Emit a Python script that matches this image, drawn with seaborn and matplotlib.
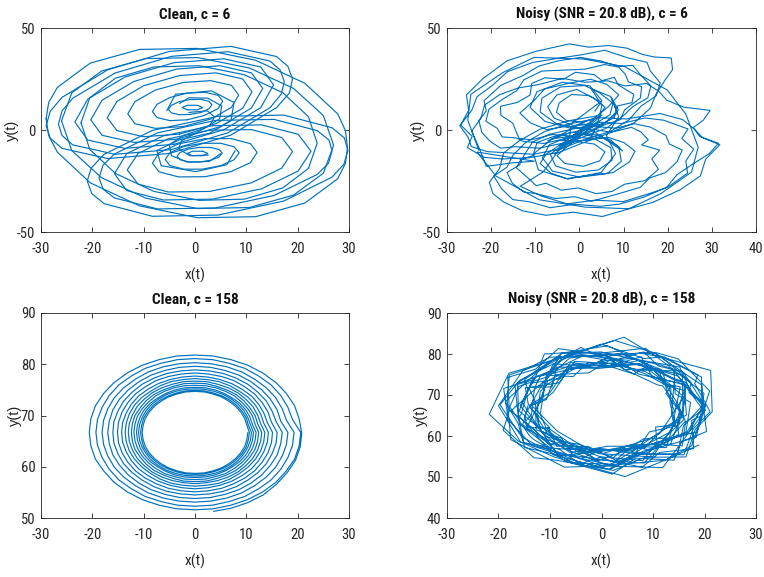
import os
import matplotlib
matplotlib.use("Agg")
import matplotlib.pyplot as plt
from matplotlib import font_manager as fm
from matplotlib.font_manager import FontProperties
import pandas as pd
import seaborn as sns

# ---------------- data ----------------
# Panel 1: clean trajectory, c = 6 (drawn loop by loop; sizes give points per loop)
clean6_sizes = [7, 13, 7, 13, 13, 13, 13, 13, 13, 17, 13, 13, 17, 13, 13, 21, 17, 17, 17, 17, 12, 12, 9]
clean6_x = [
    -1.5, 0.5, 1.5, 0.5, -1.5, -2.5, -1.5,
    -1.0, 1.2, 2.7, 3.3, 2.7, 1.2, -1.0, -3.1, -4.6, -5.2, -4.6, -3.1, -1.0,
    1.5, -0.5, -1.5, -0.5, 1.5, 2.5, 1.5,
    0.9, -1.3, -2.9, -3.5, -2.9, -1.3, 0.9, 3.1, 4.7, 5.3, 4.7, 3.1, 0.9,
    -1.5, 1.9, 4.5, 5.4, 4.5, 1.9, -1.5, -4.9, -7.4, -8.3, -7.4, -4.9, -1.5,
    1.4, -2.2, -4.9, -5.8, -4.9, -2.2, 1.4, 5.0, 7.6, 8.6, 7.6, 5.0, 1.4,
    -2.3, 3.1, 7.1, 8.5, 7.1, 3.1, -2.3, -7.7, -11.7, -13.1, -11.7, -7.7, -2.3,
    1.9, -3.2, -7.0, -8.3, -7.0, -3.2, 1.9, 7.0, 10.8, 12.1, 10.8, 7.0, 1.9,
    -3.0, 4.1, 9.3, 11.1, 9.3, 4.1, -3.0, -10.0, -15.2, -17.1, -15.2, -10.0, -3.0,
    -22.2, -20.5, -15.5, -8.0, 0.8, 9.6, 17.1, 22.1, 23.8, 22.1, 17.1, 9.6, 0.8, -8.0, -15.5, -20.5, -22.2,
    2.9, -5.2, -11.1, -13.2, -11.1, -5.2, 2.9, 11.0, 16.9, 19.0, 16.9, 11.0, 2.9,
    -3.5, 4.9, 11.0, 13.2, 11.0, 4.9, -3.5, -11.9, -18.1, -20.3, -18.1, -11.9, -3.5,
    -26.0, -24.0, -18.2, -9.6, 0.5, 10.6, 19.2, 25.0, 27.0, 25.0, 19.2, 10.6, 0.5, -9.6, -18.2, -24.0, -26.0,
    3.4, -6.2, -13.3, -15.7, -13.3, -6.2, 3.4, 13.0, 20.1, 22.6, 20.1, 13.0, 3.4,
    -4.1, 5.6, 12.8, 15.3, 12.8, 5.6, -4.1, -13.7, -20.9, -23.4, -20.9, -13.7, -4.1,
    -29.0, -28.5, -26.8, -20.4, -10.8, 0.5, 11.8, 21.4, 27.8, 29.3, 29.7, 29.3, 27.8, 21.4, 11.8, 0.5, -10.8, -20.4, -26.8, -28.5, -29.0,
    4.0, -7.3, -15.7, -17.9, -18.7, -17.9, -15.7, -7.3, 4.0, 15.4, 23.8, 26.0, 26.7, 26.1, 23.8, 15.4, 4.0,
    -4.6, 6.4, 14.6, 16.8, 17.4, 16.6, 14.6, 6.4, -4.6, -15.6, -23.8, -25.9, -26.6, -25.9, -23.8, -15.6, -4.6,
    4.5, -8.3, -17.7, -20.2, -21.0, -20.1, -17.7, -8.3, 4.5, 17.3, 26.7, 29.0, 29.8, 29.1, 26.7, 17.3, 4.5,
    -5.0, 7.0, 15.9, 18.4, 19.0, 18.1, 15.9, 7.0, -5.0, -17.0, -25.9, -28.2, -29.0, -28.2, -25.9, -17.0, -5.0,
    -3.0, -1.2, 2.5, 5.2, 4.8, 1.8, -2.2, -5.0, -4.6, -1.4, 2.8, 5.0,
    -5.5, -3.8, 3.2, 7.6, 7.0, 2.8, -3.0, -7.4, -6.6, 0.2, 6.2, 7.8,
    -1.2, 2.4, 3.8, 2.9, 0.2, -2.6, -3.2, -1.0, 2.6,
]
clean6_y = [
    9.9, 9.9, 11.0, 12.1, 12.1, 11.0, 9.9,
    7.6, 8.6, 10.4, 12.4, 14.1, 15.0, 14.9, 13.9, 12.1, 10.1, 8.4, 7.5, 7.6,
    -10.4, -10.4, -11.5, -12.6, -12.6, -11.5, -10.4,
    -8.5, -9.4, -11.0, -12.9, -14.6, -15.6, -15.7, -14.8, -13.2, -11.3, -9.6, -8.6, -8.5,
    5.0, 7.2, 10.5, 14.1, 17.0, 18.5, 18.1, 15.9, 12.6, 9.0, 6.1, 4.6, 5.0,
    -6.5, -8.1, -11.1, -14.5, -17.4, -19.2, -19.2, -17.5, -14.6, -11.2, -8.2, -6.5, -6.5,
    1.7, 5.4, 11.1, 17.1, 21.9, 24.2, 23.3, 19.6, 13.9, 7.9, 3.1, 0.8, 1.7,
    -4.3, -6.8, -11.2, -16.2, -20.5, -23.0, -22.9, -20.4, -16.0, -11.0, -6.7, -4.2, -4.3,
    -2.0, 3.1, 10.7, 18.7, 25.0, 28.0, 26.7, 21.7, 14.0, 6.0, -0.3, -3.3, -2.0,
    3.5, -9.5, -21.3, -30.1, -34.5, -33.9, -28.4, -18.8, -6.5, 6.5, 18.3, 27.1, 31.5, 30.9, 25.4, 15.8, 3.5,
    -0.1, -4.3, -11.5, -19.6, -26.5, -30.4, -30.1, -25.9, -18.7, -10.6, -3.7, 0.2, -0.1,
    -4.5, 1.6, 10.8, 20.4, 28.0, 31.5, 29.9, 23.8, 14.6, 5.0, -2.6, -6.1, -4.5,
    4.5, -10.1, -23.4, -33.4, -38.5, -38.0, -31.9, -21.2, -7.5, 7.1, 20.4, 30.4, 35.5, 35.0, 28.9, 18.2, 4.5,
    2.1, -2.9, -11.6, -21.4, -29.7, -34.3, -33.9, -28.8, -20.1, -10.4, -2.1, 2.5, 2.1,
    -7.0, 0.1, 10.9, 22.1, 30.9, 34.9, 33.0, 25.9, 15.1, 3.9, -4.9, -9.0, -7.0,
    5.5, -2.8, -10.9, -25.9, -37.2, -43.0, -42.5, -35.8, -23.9, -16.4, -8.5, -0.2, 7.9, 22.9, 34.2, 40.0, 39.5, 32.8, 20.9, 13.5, 5.5,
    4.7, -1.4, -11.8, -17.2, -23.4, -29.0, -33.3, -38.7, -38.2, -32.1, -21.8, -16.3, -10.2, -4.9, -0.3, 5.2, 4.7,
    -9.6, -1.4, 10.9, 17.6, 23.7, 29.4, 33.8, 38.4, 36.1, 27.9, 15.6, 9.4, 2.8, -2.7, -7.3, -11.9, -9.6,
    6.7, -0.2, -11.9, -18.6, -25.0, -31.2, -36.1, -42.3, -41.7, -34.8, -23.1, -16.8, -10.0, -3.9, 1.1, 7.3, 6.7,
    -11.5, -2.5, 11.0, 18.2, 25.0, 31.2, 36.0, 41.0, 38.5, 29.5, 16.0, 9.2, 2.0, -4.0, -9.0, -14.0, -11.5,
    13.0, 15.8, 15.6, 11.8, 5.5, 0.8, -2.6, -7.2, -12.6, -15.8, -15.4, -11.6,
    9.5, 17.5, 19.2, 13.5, 4.5, -1.6, -4.8, -10.0, -17.5, -20.4, -17.0, -10.2,
    8.6, 9.4, 6.4, 2.4, -1.5, -5.2, -9.2, -12.6, -12.3,
]

# Panel 2: noisy trajectory, c = 6
noisy6_x = [
    3.5, 4.9, 2.1, -1.8, -4.6, -5.2, -2.9, 0.8, 4.2, 5.8,
    3.1, -0.6, -5.1, -7.2, -5.8, -1.4, 3.3, 6.9, 7.6, 4.4,
    1.2, -4.3, -8.5, -8.9, -5.2, 0.6, 5.9, 8.8, 7.1, 2.6,
    5.1, 4.3, 0.9,
    -3.2, -5.1, -3.3, 0.9, 4.6, 5.8, 3.4, -0.7, -4.1,
    -6.6, -5.4, -0.8, 4.3, 7.4, 7.1, 3.2, -2.5, -6.8,
    -8.4, -6.1, 0.2, 6.3, 9.5, 8.9, 4.6, -1.9, -7.2,
    -3.5, 0.2, 4.8, 7.9, 8.6, 11.9, 12.3, 8.8, 7.9, 5.1, 3.4, -0.9, -3.6, -7.8, -10.8, -11.2, -14.1, -17.9, -17.8, -15.1, -14.2, -13.6, -10.9, -6.1, -2.2,
    -2.0, 3.4, 6.6, 8.9, 6.2, 2.5, -2.6, -7.9, -10.2, -13.5, -11.2, -7.4, -2.6,
    5.1, 2.4, -3.9, -9.6, -11.2, -7.8, -1.9, 4.9, 8.6, 7.2, 8.9, 6.1,
    8.2, 4.9, -2.6, -9.3, -10.4, -6.2, 0.8, 7.1, 9.8,
    2.1, -2.4, -5.9, -9.6, -10.5, -13.2, -14.3, -11.5, -9.8, -7.6, -4.1, -0.3, 3.8, 7.4, 10.2, 14.9, 17.9, 16.4, 18.2, 14.1, 15.6, 13.9, 11.8, 7.2, 3.5,
    2.3, -3.6, -7.5, -8.9, -6.4, -2.9, 2.4, 7.6, 11.3, 12.6, 10.1, 6.5, 1.5,
    -4.3, 1.6, 5.5, 9.3, 10.2, 13.8, 14.1, 11.1, 10.4, 8.9, 5.7, 1.2, -2.9, -8.5, -12.6, -14.2, -17.4, -20.5, -21.2, -18.6, -17.5, -14.3, -12.8, -8.1, -3.1,
    4.1, -1.3, -6.8, -10.6, -12.5, -13.6, -16.4, -15.2, -12.6, -9.8, -5.4, -1.1, 2.8, 8.6, 13.8, 15.9, 19.5, 22.1, 23.3, 20.4, 19.6, 16.1, 12.4, 8.3, 4.2,
    -4.6, 1.4, 6.1, 9.8, 12.1, 15.5, 16.2, 13.7, 12.1, 8.8, 4.9, 0.2, -4.8, -9.1, -12.9, -17.8, -21.6, -21.1, -22.8, -22.1, -20.2, -17.9, -14.5, -9.2, -3.6,
    3.3, -2.6, -7.9, -12.2, -15.1, -16.4, -19.4, -17.6, -15.1, -11.3, -6.6, -1.2, 4.8, 9.1, 14.6, 20.3, 24.5, 24.1, 25.9, 23.2, 24.6, 19.1, 14.8, 9.6, 4.6,
    -5.2, 1.3, 7.1, 11.2, 13.9, 17.4, 18.3, 16.1, 15.3, 10.9, 5.7, 0.6, -4.1, -10.6, -16.3, -19.7, -23.2, -24.4, -27.1, -25.2, -24.5, -20.9, -16.2, -10.4, -3.9,
    5.1, -2.3, -8.9, -13.6, -17.2, -18.1, -20.4, -19.6, -17.1, -12.9, -7.6, -1.4, 5.2, 11.3, 16.6, 22.9, 27.4, 28.6, 31.8, 27.9, 26.1, 23.4, 18.2, 10.6, 3.9,
    -5.6, 0.9, 6.3, 12.4, 16.1, 17.3, 19.4, 21.1, 20.8, 16.9, 14.2, 10.8, 6.6, 2.1, -2.3, -9.8, -16.4, -21.8, -25.6, -25.1, -26.9, -24.3, -25.4, -21.6, -17.5, -11.3, -5.1,
    -8.2, -13.4, -8.6, -2.8, 3.6, 9.9, 15.8, 19.7, 22.1, 25.6, 29.4, 31.5, 27.2, 25.8, 28.1, 29.6, 23.6, 19.8, 17.9, 15.2, 10.3, 6.5, 1.2, -3.8, -9.4, -13.9, -18.1, -21.5, -22.3, -24.4, -22.6, -21.1, -15.2, -10.2,
    -23.2, -18.9, -9.1, 1.3, 11.2, 18.5, 25.4, 26.9, 24.1, 19.9, 10.2, 0.9, -10.3, -17.4, -24.6, -25.3, -22.8,
]
noisy6_y = [
    9.2, 13.6, 16.9, 17.4, 13.2, 8.7, 4.6, 3.9, 6.1, 11.2,
    15.8, 19.9, 17.2, 11.4, 5.9, 2.2, 2.8, 7.4, 13.1, 18.5,
    21.8, 21.1, 15.6, 8.8, 3.1, 0.4, 3.5, 9.9, 16.4, 20.3,
    12.2, 4.6, -1.8,
    -8.9, -12.6, -16.4, -17.8, -15.1, -10.7, -6.9, -5.6, -7.8,
    -11.9, -17.6, -20.7, -19.6, -14.8, -8.6, -4.1, -3.4, -7.2,
    -13.6, -20.2, -23.1, -21.4, -15.3, -8.1, -2.6, -1.1, -5.3,
    -1.5, 2.9, 2.6, 6.1, 11.8, 13.4, 17.5, 22.1, 25.8, 24.2, 27.1, 28.3, 24.9, 25.6, 22.8, 17.1, 13.5, 11.6, 7.2, 3.4, -1.6, -4.2, -4.8, -2.2, -2.9,
    1.2, 5.9, 11.5, 17.2, 22.4, 24.9, 22.8, 20.1, 14.6, 8.3, 3.6, 0.2, 1.9,
    14.3, 21.6, 23.4, 18.8, 11.1, 4.2, 0.8, 2.1, 8.4, 15.9, 6.5, -2.8,
    -11.6, -20.8, -24.1, -19.6, -11.7, -4.4, -2.1, -4.9, -10.3,
    0.9, -1.6, -3.2, -6.1, -12.6, -14.3, -18.5, -23.8, -27.3, -26.1, -29.5, -28.4, -31.2, -30.1, -26.6, -24.8, -19.3, -14.2, -9.9, -7.3, -4.8, -0.9, 1.3, -1.1, 0.2,
    -4.8, -6.1, -11.8, -16.4, -21.2, -23.8, -22.1, -20.9, -15.7, -10.4, -6.2, -3.6, -5.1,
    -5.2, -1.9, 2.4, 5.1, 9.8, 15.7, 21.2, 23.6, 27.3, 30.8, 32.1, 29.8, 29.4, 28.9, 24.6, 19.3, 15.1, 10.2, 4.3, 0.8, -3.4, -3.9, -5.5, -6.6, -4.2,
    2.8, 0.6, -2.1, -5.9, -12.2, -17.2, -20.8, -26.1, -30.4, -31.2, -33.6, -32.7, -34.9, -31.4, -28.1, -23.5, -20.9, -15.6, -9.8, -6.9, -2.7, 1.4, 3.1, 0.9, 1.6,
    -7.8, -2.9, 0.9, 6.7, 11.5, 15.8, 21.6, 27.4, 31.7, 31.2, 33.8, 35.6, 33.9, 31.4, 26.6, 21.9, 14.4, 9.3, 4.6, -1.2, -5.6, -8.9, -8.2, -8.9, -6.4,
    5.4, 2.9, -0.8, -6.1, -12.5, -18.2, -22.6, -28.9, -34.1, -35.2, -38.1, -36.4, -37.4, -36.3, -32.9, -27.6, -21.1, -15.2, -9.4, -4.1, 0.5, 4.8, 5.9, 3.2, 3.8,
    -10.1, -4.6, -0.6, 4.9, 11.6, 16.8, 23.1, 28.8, 33.2, 35.4, 39.1, 36.9, 35.4, 33.1, 28.6, 21.9, 16.3, 9.6, 2.1, -3.6, -8.1, -10.6, -11.2, -11.9, -9.1,
    7.3, 4.6, 0.4, -5.2, -11.3, -18.9, -25.6, -31.2, -35.4, -39.6, -41.8, -40.3, -42.4, -38.6, -35.5, -29.2, -22.5, -14.3, -7.2, -3.8, 0.3, 5.1, 8.1, 5.4, 6.1,
    -11.8, -6.2, -1.9, 3.5, 10.8, 17.4, 24.5, 29.6, 35.3, 35.8, 37.1, 40.1, 41.4, 40.6, 42.2, 38.6, 33.9, 25.3, 17.2, 9.6, 2.5, -3.1, -8.6, -13.4, -14.2, -13.6, -11.1,
    -20.5, -27.6, -32.4, -36.2, -34.4, -35.1, -31.2, -28.3, -21.9, -16.8, -11.6, -6.5, -3.1, 1.2, 4.9, 9.6, 11.2, 14.6, 19.1, 22.8, 21.6, 24.1, 23.4, 25.3, 22.2, 20.6, 17.3, 12.2, 5.9, -0.6, -9.4, -17.8, -16.1, -15.3,
    -10.8, -22.6, -34.2, -37.8, -38.6, -31.1, -20.6, -8.4, 7.8, 19.6, 31.1, 34.8, 35.6, 28.1, 17.5, 4.9, -9.9,
]

# Panel 3: clean trajectory, c = 158 (slow outward spiral)
clean158_x = [
    10.3, 10.1, 9.7, 8.9, 7.9, 6.6, 5.2, 3.5, 1.8, 0.0, -1.8, -3.5, -5.2, -6.6, -7.9, -8.9, -9.7, -10.1, -10.3, -10.1, -9.7, -8.9, -7.9, -6.6, -5.2, -3.5, -1.8, 0.0, 1.8, 3.5, 5.2, 6.6, 7.9, 8.9, 9.7, 10.1,
    10.6, 10.4, 10.0, 9.2, 8.1, 6.8, 5.3, 3.6, 1.8, 0.0, -1.8, -3.6, -5.3, -6.8, -8.1, -9.2, -10.0, -10.4, -10.6, -10.4, -10.0, -9.2, -8.1, -6.8, -5.3, -3.6, -1.8, 0.0, 1.8, 3.6, 5.3, 6.8, 8.1, 9.2, 10.0, 10.4,
    11.0, 10.8, 10.3, 9.5, 8.4, 7.1, 5.5, 3.8, 1.9, 0.0, -1.9, -3.8, -5.5, -7.1, -8.4, -9.5, -10.3, -10.8, -11.0, -10.8, -10.3, -9.5, -8.4, -7.1, -5.5, -3.8, -1.9, 0.0, 1.9, 3.8, 5.5, 7.1, 8.4, 9.5, 10.3, 10.8,
    11.4, 11.2, 10.7, 9.9, 8.7, 7.3, 5.7, 3.9, 2.0, 0.0, -2.0, -3.9, -5.7, -7.3, -8.7, -9.9, -10.7, -11.2, -11.4, -11.2, -10.7, -9.9, -8.7, -7.3, -5.7, -3.9, -2.0, 0.0, 2.0, 3.9, 5.7, 7.3, 8.7, 9.9, 10.7, 11.2,
    11.9, 11.7, 11.2, 10.3, 9.1, 7.7, 6.0, 4.1, 2.1, 0.0, -2.1, -4.1, -6.0, -7.7, -9.1, -10.3, -11.2, -11.7, -11.9, -11.7, -11.2, -10.3, -9.1, -7.7, -6.0, -4.1, -2.1, 0.0, 2.1, 4.1, 6.0, 7.7, 9.1, 10.3, 11.2, 11.7,
    12.4, 12.2, 11.7, 10.7, 9.5, 8.0, 6.2, 4.2, 2.2, 0.0, -2.2, -4.2, -6.2, -8.0, -9.5, -10.7, -11.7, -12.2, -12.4, -12.2, -11.7, -10.7, -9.5, -8.0, -6.2, -4.2, -2.2, 0.0, 2.2, 4.2, 6.2, 8.0, 9.5, 10.7, 11.7, 12.2,
    13.0, 12.8, 12.2, 11.3, 10.0, 8.4, 6.5, 4.4, 2.3, 0.0, -2.3, -4.4, -6.5, -8.4, -10.0, -11.3, -12.2, -12.8, -13.0, -12.8, -12.2, -11.3, -10.0, -8.4, -6.5, -4.4, -2.3, 0.0, 2.3, 4.4, 6.5, 8.4, 10.0, 11.3, 12.2, 12.8,
    13.6, 13.4, 12.8, 11.8, 10.4, 8.7, 6.8, 4.7, 2.4, 0.0, -2.4, -4.7, -6.8, -8.7, -10.4, -11.8, -12.8, -13.4, -13.6, -13.4, -12.8, -11.8, -10.4, -8.7, -6.8, -4.7, -2.4, 0.0, 2.4, 4.7, 6.8, 8.7, 10.4, 11.8, 12.8, 13.4,
    14.3, 14.1, 13.4, 12.4, 11.0, 9.2, 7.2, 4.9, 2.5, 0.0, -2.5, -4.9, -7.2, -9.2, -11.0, -12.4, -13.4, -14.1, -14.3, -14.1, -13.4, -12.4, -11.0, -9.2, -7.2, -4.9, -2.5, 0.0, 2.5, 4.9, 7.2, 9.2, 11.0, 12.4, 13.4, 14.1,
    15.1, 14.9, 14.2, 13.1, 11.6, 9.7, 7.6, 5.2, 2.6, 0.0, -2.6, -5.2, -7.6, -9.7, -11.6, -13.1, -14.2, -14.9, -15.1, -14.9, -14.2, -13.1, -11.6, -9.7, -7.6, -5.2, -2.6, 0.0, 2.6, 5.2, 7.6, 9.7, 11.6, 13.1, 14.2, 14.9,
    16.0, 15.8, 15.0, 13.9, 12.3, 10.3, 8.0, 5.5, 2.8, 0.0, -2.8, -5.5, -8.0, -10.3, -12.3, -13.9, -15.0, -15.8, -16.0, -15.8, -15.0, -13.9, -12.3, -10.3, -8.0, -5.5, -2.8, 0.0, 2.8, 5.5, 8.0, 10.3, 12.3, 13.9, 15.0, 15.8,
    17.0, 16.7, 16.0, 14.7, 13.0, 10.9, 8.5, 5.8, 3.0, 0.0, -3.0, -5.8, -8.5, -10.9, -13.0, -14.7, -16.0, -16.7, -17.0, -16.7, -16.0, -14.7, -13.0, -10.9, -8.5, -5.8, -3.0, 0.0, 3.0, 5.8, 8.5, 10.9, 13.0, 14.7, 16.0, 16.7,
    18.1, 17.8, 17.0, 15.7, 13.9, 11.6, 9.1, 6.2, 3.1, 0.0, -3.1, -6.2, -9.1, -11.6, -13.9, -15.7, -17.0, -17.8, -18.1, -17.8, -17.0, -15.7, -13.9, -11.6, -9.1, -6.2, -3.1, 0.0, 3.1, 6.2, 9.1, 11.6, 13.9, 15.7, 17.0, 17.8,
    19.3, 19.0, 18.1, 16.7, 14.8, 12.4, 9.7, 6.6, 3.4, 0.0, -3.4, -6.6, -9.7, -12.4, -14.8, -16.7, -18.1, -19.0, -19.3, -19.0, -18.1, -16.7, -14.8, -12.4, -9.7, -6.6, -3.4, 0.0, 3.4, 6.6, 9.7, 12.4, 14.8, 16.7, 18.1, 19.0,
    20.6, 20.3, 19.4, 17.8, 15.8, 13.2, 10.3, 7.0, 3.6, 0.0, -3.6, -7.0, -10.3, -13.2, -15.8, -17.8, -19.4, -20.3, -20.6, -20.3, -19.4, -17.8, -15.8, -13.2, -10.3, -7.0, -3.6, 0.0, 3.6, 7.0, 10.3, 13.2, 15.8, 17.8, 19.4, 20.3,
    20.8, 20.5, 19.6, 18.0, 15.9, 13.3, 10.3, 7.0, 3.6,
]
clean158_y = [
    66.7, 65.3, 64.0, 62.7, 61.6, 60.6, 59.8, 59.2, 58.8, 58.7, 58.8, 59.2, 59.8, 60.6, 61.6, 62.7, 64.0, 65.3, 66.7, 68.1, 69.4, 70.7, 71.8, 72.8, 73.6, 74.2, 74.6, 74.7, 74.6, 74.2, 73.6, 72.8, 71.8, 70.7, 69.4, 68.1,
    66.7, 65.3, 63.9, 62.6, 61.4, 60.4, 59.6, 59.0, 58.6, 58.5, 58.6, 59.0, 59.6, 60.4, 61.4, 62.6, 63.9, 65.3, 66.7, 68.1, 69.5, 70.8, 72.0, 73.0, 73.8, 74.4, 74.8, 74.9, 74.8, 74.4, 73.8, 73.0, 72.0, 70.8, 69.5, 68.1,
    66.7, 65.2, 63.8, 62.5, 61.2, 60.2, 59.3, 58.7, 58.3, 58.2, 58.3, 58.7, 59.3, 60.2, 61.2, 62.5, 63.8, 65.2, 66.7, 68.2, 69.6, 71.0, 72.2, 73.2, 74.1, 74.7, 75.1, 75.2, 75.1, 74.7, 74.1, 73.2, 72.2, 71.0, 69.6, 68.2,
    66.7, 65.2, 63.7, 62.3, 61.0, 60.0, 59.1, 58.4, 58.0, 57.9, 58.0, 58.4, 59.1, 60.0, 61.0, 62.3, 63.7, 65.2, 66.7, 68.2, 69.7, 71.1, 72.4, 73.4, 74.3, 75.0, 75.4, 75.5, 75.4, 75.0, 74.3, 73.4, 72.4, 71.1, 69.7, 68.2,
    66.7, 65.1, 63.6, 62.1, 60.8, 59.7, 58.7, 58.1, 57.6, 57.5, 57.6, 58.1, 58.7, 59.7, 60.8, 62.1, 63.6, 65.1, 66.7, 68.3, 69.9, 71.3, 72.6, 73.8, 74.7, 75.4, 75.8, 75.9, 75.8, 75.4, 74.7, 73.8, 72.6, 71.3, 69.9, 68.3,
    66.7, 65.0, 63.4, 61.9, 60.5, 59.3, 58.4, 57.7, 57.2, 57.1, 57.2, 57.7, 58.4, 59.3, 60.5, 61.9, 63.4, 65.0, 66.7, 68.4, 70.0, 71.5, 72.9, 74.1, 75.0, 75.7, 76.2, 76.3, 76.2, 75.7, 75.0, 74.1, 72.9, 71.5, 70.0, 68.4,
    66.7, 65.0, 63.3, 61.7, 60.3, 59.0, 58.0, 57.3, 56.9, 56.7, 56.9, 57.3, 58.0, 59.0, 60.3, 61.7, 63.3, 65.0, 66.7, 68.4, 70.1, 71.7, 73.1, 74.4, 75.4, 76.1, 76.6, 76.7, 76.6, 76.1, 75.4, 74.4, 73.1, 71.7, 70.1, 68.4,
    66.7, 64.9, 63.1, 61.5, 60.0, 58.7, 57.6, 56.8, 56.4, 56.2, 56.4, 56.8, 57.6, 58.7, 60.0, 61.5, 63.1, 64.9, 66.7, 68.5, 70.3, 72.0, 73.5, 74.7, 75.8, 76.6, 77.0, 77.2, 77.0, 76.6, 75.8, 74.7, 73.5, 72.0, 70.3, 68.5,
    66.7, 64.8, 62.9, 61.2, 59.6, 58.3, 57.2, 56.4, 55.9, 55.7, 55.9, 56.4, 57.2, 58.3, 59.6, 61.2, 62.9, 64.8, 66.7, 68.6, 70.5, 72.2, 73.8, 75.1, 76.2, 77.0, 77.5, 77.7, 77.5, 77.0, 76.2, 75.1, 73.8, 72.2, 70.5, 68.6,
    66.7, 64.7, 62.7, 60.9, 59.2, 57.8, 56.7, 55.8, 55.3, 55.1, 55.3, 55.8, 56.7, 57.8, 59.2, 60.9, 62.7, 64.7, 66.7, 68.7, 70.7, 72.5, 74.2, 75.6, 76.8, 77.6, 78.1, 78.3, 78.1, 77.6, 76.8, 75.6, 74.2, 72.5, 70.7, 68.7,
    66.7, 64.6, 62.5, 60.6, 58.9, 57.4, 56.1, 55.2, 54.7, 54.5, 54.7, 55.2, 56.1, 57.4, 58.9, 60.6, 62.5, 64.6, 66.7, 68.8, 70.9, 72.8, 74.5, 76.1, 77.3, 78.2, 78.7, 78.9, 78.7, 78.2, 77.3, 76.1, 74.5, 72.8, 70.9, 68.8,
    66.7, 64.5, 62.3, 60.3, 58.4, 56.8, 55.5, 54.6, 54.0, 53.8, 54.0, 54.6, 55.5, 56.8, 58.4, 60.3, 62.3, 64.5, 66.7, 68.9, 71.1, 73.2, 75.0, 76.6, 77.9, 78.8, 79.4, 79.6, 79.4, 78.8, 77.9, 76.6, 75.0, 73.2, 71.1, 68.9,
    66.7, 64.3, 62.1, 59.9, 58.0, 56.3, 54.9, 53.9, 53.3, 53.1, 53.3, 53.9, 54.9, 56.3, 58.0, 59.9, 62.1, 64.3, 66.7, 69.1, 71.3, 73.5, 75.4, 77.1, 78.5, 79.5, 80.1, 80.3, 80.1, 79.5, 78.5, 77.1, 75.4, 73.5, 71.3, 69.1,
    66.7, 64.2, 61.8, 59.5, 57.4, 55.7, 54.2, 53.2, 52.5, 52.3, 52.5, 53.2, 54.2, 55.7, 57.4, 59.5, 61.8, 64.2, 66.7, 69.2, 71.6, 73.9, 76.0, 77.7, 79.2, 80.2, 80.9, 81.1, 80.9, 80.2, 79.2, 77.7, 76.0, 73.9, 71.6, 69.2,
    66.7, 64.1, 61.5, 59.2, 57.0, 55.1, 53.6, 52.5, 51.8, 51.6, 51.8, 52.5, 53.6, 55.1, 57.0, 59.2, 61.5, 64.1, 66.7, 69.3, 71.9, 74.3, 76.4, 78.3, 79.8, 80.9, 81.6, 81.8, 81.6, 80.9, 79.8, 78.3, 76.4, 74.3, 71.9, 69.3,
    66.5, 63.9, 61.3, 58.9, 56.6, 54.5, 53.0, 51.9, 51.3,
]

# Panel 4: noisy trajectory, c = 158
noisy158_x = [
    14.2, 12.2, 8.5, -0.1, -5.4, -11.0, -11.9, -10.7, -6.4, 1.6, 7.9, 13.1,
    15.4, 11.9, 10.8, 4.2, 1.9, -2.5, -8.9, -10.7, -13.6, -9.8, -8.6, -2.1, -0.3, 6.5, 9.3, 14.7,
    15.4, 12.5, 13.5, 8.5, 6.3, -0.7, -2.7, -5.5, -10.7, -11.6, -14.0, -10.0, -10.5, -6.2, -4.3, 2.3, 4.9, 10.8, 10.5, 14.4,
    13.3, 13.5, 8.9, -0.4, -6.2, -9.4, -12.4, -12.3, -4.5, 1.4, 6.1, 14.0,
    13.6, 14.1, 7.2, 2.8, -7.0, -10.0, -14.0, -10.4, -5.2, 0.2, 8.9, 11.4,
    14.7, 16.0, 9.9, 7.0, 2.9, -5.2, -8.2, -14.1, -12.8, -12.7, -7.8, -5.8, 1.2, 4.7, 12.6, 13.9,
    14.2, 15.3, 12.0, 11.1, 4.5, 1.2, -2.4, -9.4, -11.2, -11.9, -12.2, -14.5, -10.3, -8.7, -2.5, 2.8, 5.2, 8.1, 13.3, 16.3,
    14.7, 12.5, 8.6, 2.5, -6.2, -10.4, -12.9, -11.7, -5.9, 1.7, 8.4, 12.3,
    16.5, 16.0, 7.2, 1.2, -4.9, -12.8, -15.8, -10.9, -6.2, -0.5, 9.9, 13.7,
    15.7, 16.4, 9.8, 7.7, 1.2, -6.0, -8.0, -13.7, -15.4, -11.8, -10.1, -4.2, -0.7, 5.9, 13.4, 14.8,
    15.3, 16.1, 12.6, 11.8, 4.3, 1.8, -2.6, -8.7, -9.6, -14.8, -14.2, -15.3, -10.1, -8.3, -2.8, -0.8, 6.5, 9.6, 15.0, 14.8,
    16.2, 16.1, 7.2, 1.8, -5.0, -13.2, -16.0, -11.9, -8.4, 1.5, 8.6, 16.4,
    17.3, 14.3, 14.1, 6.2, 0.8, -3.9, -11.9, -13.0, -13.6, -14.9, -9.8, -5.7, 2.7, 8.0, 10.5, 15.9,
    15.8, 15.7, 10.2, -0.4, -7.5, -11.6, -14.9, -14.5, -5.8, 1.4, 7.4, 16.2,
    20.0, 18.2, 13.8, 11.0, 8.2, 2.0, -5.6, -8.9, -14.9, -14.3, -15.6, -16.1, -15.1, -8.2, -4.2, 0.0, 8.0, 10.6, 15.7, 16.3,
    19.7, 14.9, 10.1, -0.4, -6.2, -12.9, -17.6, -13.4, -8.6, 2.5, 8.7, 17.0,
    20.2, 16.3, 13.9, 6.4, 2.9, -6.1, -10.2, -16.8, -16.2, -15.9, -9.9, -4.8, -0.8, 8.3, 12.3, 18.6,
    20.2, 15.9, 11.5, -0.1, -7.6, -16.3, -16.1, -13.4, -9.4, 1.6, 9.1, 18.4,
    19.7, 17.3, 15.2, 6.7, 1.2, -7.8, -10.4, -16.1, -17.8, -14.0, -13.1, -5.5, 2.9, 7.3, 14.8, 15.9,
    19.8, 17.0, 17.4, 11.7, 7.7, -0.8, -4.0, -10.4, -12.5, -17.5, -18.7, -16.2, -14.9, -8.2, -6.2, 1.8, 7.9, 11.3, 17.9, 17.5,
    19.6, 19.4, 10.2, 2.8, -10.0, -15.3, -20.0, -15.7, -7.2, 0.2, 11.9, 16.7,
    19.5, 19.9, 12.5, 8.5, -0.2, -4.8, -12.7, -15.9, -19.7, -15.5, -13.0, -4.4, 1.4, 6.9, 16.0, 17.8,
    21.1, 18.1, 18.7, 12.2, 8.3, -0.1, -4.3, -11.1, -13.0, -19.0, -18.3, -18.3, -13.4, -10.0, -6.7, 2.1, 6.6, 14.1, 15.5, 20.4,
    19.7, 19.5, 10.2, 2.6, -8.7, -17.9, -18.3, -17.6, -7.2, 0.4, 12.4, 17.5,
    20.1, 21.0, 14.9, 10.7, 0.1, -8.4, -12.8, -18.2, -17.9, -19.1, -13.1, -8.8, 2.3, 8.4, 16.4, 18.2,
    21.5, 21.2, 10.2, 4.4, -7.9, -18.0, -21.8, -16.2, -9.2, 4.6, 12.9, 18.9,
]
noisy158_y = [
    65.9, 73.0, 75.7, 78.1, 76.3, 72.3, 65.3, 61.8, 56.9, 56.5, 57.4, 60.8,
    66.0, 72.2, 72.5, 76.4, 78.7, 75.4, 75.0, 68.9, 67.5, 62.7, 61.2, 56.4, 57.0, 55.7, 61.0, 62.5,
    65.6, 70.4, 72.0, 76.8, 75.1, 77.9, 77.8, 74.5, 74.8, 68.9, 67.1, 62.0, 62.1, 58.3, 58.0, 54.7, 57.7, 58.0, 62.2, 62.7,
    68.0, 71.4, 77.7, 76.5, 76.6, 70.6, 67.7, 62.7, 56.0, 56.6, 56.5, 63.1,
    65.5, 73.2, 75.1, 78.9, 76.2, 70.6, 67.5, 60.4, 57.5, 55.7, 59.1, 60.7,
    67.1, 69.5, 76.4, 76.1, 77.6, 78.2, 73.0, 71.8, 68.2, 61.5, 59.5, 56.0, 57.5, 57.5, 57.2, 62.7,
    65.3, 72.0, 72.7, 76.4, 76.2, 79.1, 77.0, 77.6, 71.9, 70.8, 67.7, 62.1, 61.9, 57.5, 57.4, 54.1, 56.8, 59.3, 59.5, 63.6,
    68.1, 72.4, 75.1, 77.9, 76.3, 73.5, 65.9, 61.3, 56.9, 56.5, 57.1, 62.2,
    65.1, 72.9, 77.7, 76.9, 76.6, 74.4, 67.4, 59.9, 58.3, 55.7, 54.9, 61.9,
    65.2, 72.4, 74.5, 79.3, 77.0, 77.9, 74.0, 72.9, 68.2, 61.3, 59.3, 54.4, 56.2, 57.7, 58.0, 62.7,
    68.3, 71.1, 72.3, 76.1, 79.8, 79.6, 76.8, 76.8, 72.0, 71.8, 67.7, 62.7, 58.0, 58.4, 55.8, 54.0, 57.2, 56.6, 60.4, 61.9,
    68.4, 72.3, 78.4, 77.0, 77.5, 74.2, 66.1, 61.7, 55.1, 56.5, 55.8, 61.0,
    68.2, 70.3, 75.9, 76.1, 79.7, 79.4, 74.6, 71.7, 65.2, 63.4, 57.9, 57.6, 53.5, 56.2, 57.4, 63.9,
    67.3, 74.9, 76.4, 79.5, 79.3, 72.4, 65.0, 61.7, 56.2, 52.8, 57.3, 60.2,
    67.7, 69.6, 76.2, 77.1, 80.5, 78.3, 79.9, 78.9, 73.8, 71.1, 65.3, 64.5, 58.4, 56.8, 53.2, 54.9, 54.0, 58.0, 57.6, 63.3,
    66.4, 74.6, 76.4, 79.9, 79.0, 71.4, 66.1, 62.0, 55.9, 52.7, 57.6, 60.9,
    66.3, 73.1, 74.1, 79.0, 78.6, 80.3, 75.7, 72.5, 65.1, 62.9, 57.0, 56.7, 54.2, 53.4, 59.2, 61.0,
    67.3, 75.5, 77.3, 80.5, 80.2, 72.9, 65.0, 61.2, 55.4, 51.8, 56.5, 59.7,
    68.2, 70.9, 76.8, 78.7, 82.0, 80.2, 74.5, 72.1, 67.1, 60.1, 59.1, 53.4, 53.1, 55.5, 55.7, 62.4,
    67.7, 70.6, 73.1, 79.2, 80.2, 79.7, 81.6, 77.4, 75.5, 69.8, 68.3, 63.1, 57.2, 55.3, 55.4, 53.9, 52.4, 56.0, 56.9, 63.8,
    65.1, 74.4, 80.3, 79.9, 79.2, 75.9, 67.4, 58.5, 55.7, 52.7, 52.3, 60.4,
    66.9, 70.4, 77.6, 81.4, 80.2, 80.2, 75.6, 73.6, 67.6, 59.8, 58.1, 53.7, 51.9, 55.7, 55.4, 61.7,
    65.9, 72.8, 74.9, 79.3, 78.9, 82.4, 80.5, 80.0, 73.8, 71.6, 65.7, 64.2, 57.6, 56.2, 53.7, 50.7, 54.6, 54.1, 58.6, 61.1,
    67.6, 72.4, 80.3, 83.3, 78.8, 74.9, 68.6, 59.1, 52.4, 52.7, 54.1, 57.6,
    67.6, 71.0, 78.8, 80.3, 79.9, 81.3, 76.3, 74.3, 66.1, 61.4, 54.7, 54.1, 51.6, 54.8, 54.9, 61.6,
    65.9, 76.0, 79.7, 84.1, 79.1, 75.3, 65.3, 58.8, 54.9, 50.1, 54.4, 57.8,
]

titles = ["Clean, c = 6", "Noisy (SNR = 20.8 dB), c = 6",
          "Clean, c = 158", "Noisy (SNR = 20.8 dB), c = 158"]
x_ticks = [[-30, -20, -10, 0, 10, 20, 30],
           [-30, -20, -10, 0, 10, 20, 30, 40],
           [-30, -20, -10, 0, 10, 20, 30],
           [-30, -20, -10, 0, 10, 20, 30]]
y_ticks = [[-50, 0, 50],
           [-50, 0, 50],
           [50, 60, 70, 80, 90],
           [40, 50, 60, 70, 80, 90]]

# ---------------- fonts: prefer a narrow sans (the reference is condensed) ----------------
sns.set_theme(style="ticks")
plt.rcParams['font.family'] = ['Liberation Sans', 'DejaVu Sans']


def _wt(w):
    if isinstance(w, (int, float)):
        return int(w)
    return {'normal': 400, 'regular': 400, 'book': 400, 'medium': 500,
            'semibold': 600, 'demibold': 600, 'bold': 700, 'heavy': 800,
            'black': 900, 'light': 300}.get(str(w).lower(), 400)


def find_narrow(bold):
    prefs = ['liberation sans narrow', 'arial narrow', 'roboto condensed',
             'dejavu sans', 'noto sans', 'open sans', 'liberation sans']
    best, best_score = None, None
    for f in fm.fontManager.ttflist:
        nm = f.name.lower()
        fn = os.path.basename(f.fname).lower()
        st = str(f.stretch).lower()
        narrow = ('narrow' in nm or 'narrow' in fn or
                  ('condensed' in fn and 'extra' not in fn and 'ultra' not in fn
                   and 'semi' not in fn) or st == 'condensed')
        if not narrow or 'mono' in nm or 'mono' in fn:
            continue
        if 'serif' in nm and 'sans' not in nm:
            continue
        if str(f.style).lower() != 'normal' or 'italic' in fn or 'oblique' in fn:
            continue
        w = _wt(f.weight)
        if bold and w < 650:
            continue
        if not bold and (w < 350 or w > 500):
            continue
        rank = next((i for i, p in enumerate(prefs) if nm.startswith(p)), len(prefs))
        score = (rank, abs(w - (700 if bold else 400)))
        if best_score is None or score < best_score:
            best, best_score = f.fname, score
    return best


reg_file = find_narrow(False)
bold_file = find_narrow(True)
narrow = reg_file is not None


def fprops(size, bold=False):
    f = bold_file if bold else reg_file
    if narrow and f is not None:
        return FontProperties(fname=f, size=size)
    if narrow and bold and reg_file is not None:
        return FontProperties(fname=reg_file, size=size, weight='bold')
    return FontProperties(family=['Liberation Sans', 'DejaVu Sans'],
                          size=size * (1.0 if narrow else 0.92),
                          weight='bold' if bold else 'normal')


fp_tick = fprops(10.5)
fp_title = fprops(11, bold=True)
fp_xlabel = fprops(11)
fp_ylabel = FontProperties(family=['Liberation Sans', 'DejaVu Sans'], size=10.5)

# ---------------- drawing ----------------
LINE = "#0072BD"
AXC = '#262626'
W, H = 764, 577
fig = plt.figure(figsize=(W / 100, H / 100), dpi=100)
boxes = [(41, 28, 349, 232), (447, 28, 756, 232),
         (41, 313, 349, 518), (447, 313, 756, 518)]

clean6_loop = [k for k, n in enumerate(clean6_sizes) for _ in range(n)]
series = [(clean6_x, clean6_y, clean6_loop),
          (noisy6_x, noisy6_y, [0] * len(noisy6_x)),
          (clean158_x, clean158_y, [0] * len(clean158_x)),
          (noisy158_x, noisy158_y, [0] * len(noisy158_x))]
widths = [0.85, 0.8, 0.85, 0.75]

for i, ((xs, ys, units), (l, t, r, b)) in enumerate(zip(series, boxes)):
    ax = fig.add_axes([l / W, 1 - b / H, (r - l) / W, (b - t) / H])
    df = pd.DataFrame({"x": xs, "y": ys, "loop": units})
    sns.lineplot(data=df, x="x", y="y", units="loop", sort=False, estimator=None,
                 color=LINE, linewidth=widths[i], ax=ax)
    xt, yt = x_ticks[i], y_ticks[i]
    ax.set_xlim(xt[0], xt[-1])
    ax.set_ylim(yt[0], yt[-1])
    ax.set_xticks(xt)
    ax.set_yticks(yt)
    ax.set_xticklabels([str(v) for v in xt], fontproperties=fp_tick, color=AXC)
    ax.set_yticklabels([str(v) for v in yt], fontproperties=fp_tick, color=AXC)
    ax.tick_params(direction="in", length=3.5, width=0.6, top=True, right=True,
                   colors=AXC)
    ax.tick_params(axis='x', pad=7.5)
    ax.tick_params(axis='y', pad=4)
    for sp in ax.spines.values():
        sp.set_visible(True)
        sp.set_color(AXC)
        sp.set_linewidth(0.6)
    ax.set_title(titles[i], fontproperties=fp_title, pad=7, color='#111111')
    ax.set_xlabel("x(t)", fontproperties=fp_xlabel, labelpad=8, color=AXC)
    ax.set_ylabel("y(t)", fontproperties=fp_ylabel, labelpad=-1, color=AXC)
    ax.grid(False)

fig.savefig("out.png", dpi=100)
